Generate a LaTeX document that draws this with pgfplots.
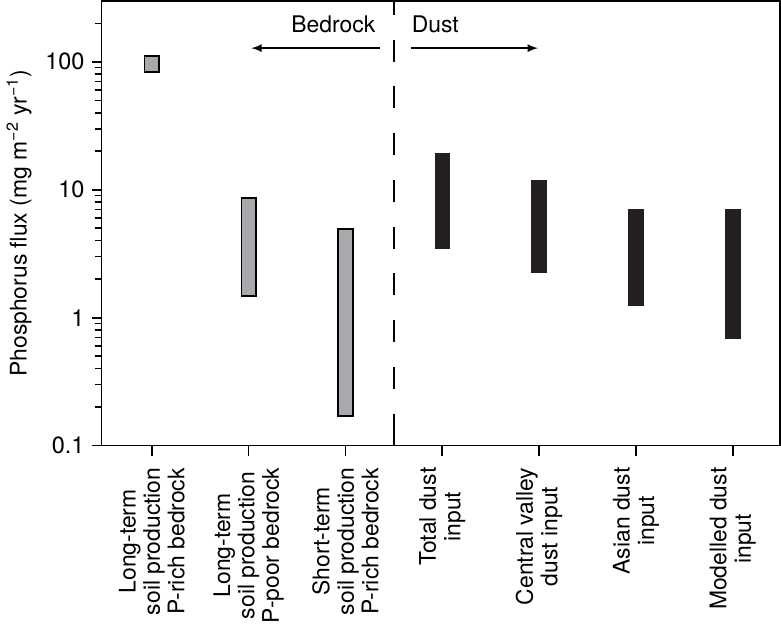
\documentclass[border=0pt]{standalone}
\usepackage{pgfplots}
\pgfplotsset{compat=1.18}
\usepackage{fontspec}
\setmainfont{TeX Gyre Heros}
\definecolor{bargray}{HTML}{A7A9AC}
\definecolor{barblack}{HTML}{231F20}
\begin{document}
\begin{tikzpicture}
\begin{axis}[
  scale only axis, width=341pt, height=223.5pt,
  ymode=log, ymin=0.1, ymax=300,
  xmin=0.48, xmax=7.49,
  xtick={1,2,3,4,5,6,7},
  xticklabels={{Long-term\\soil production\\P-rich bedrock},{Long-term\\soil production\\P-poor bedrock},{Short-term\\soil production\\P-rich bedrock},{Total dust\\input},{Central valley\\dust input},{Asian dust\\input},{Modelled dust\\input}},
  xticklabel style={rotate=90, anchor=east, align=center, font=\fontsize{11.5}{12.3}\selectfont},
  xticklabel shift=2.5pt,
  ytick={0.1,1,10,100}, yticklabels={0.1,1,10,100},
  minor ytick={0.2,0.3,0.4,0.5,0.6,0.7,0.8,0.9,2,3,4,5,6,7,8,9,20,30,40,50,60,70,80,90,200},
  yticklabel style={font=\fontsize{11.8}{12.3}\selectfont},
  /pgf/number format/assume math mode=true,
  tick align=outside, tick pos=left,
  major tick length=5pt, minor tick length=3.5pt,
  axis line style={line width=0.8pt},
  every tick/.style={black, line width=0.8pt},
  ylabel={Phosphorus flux (mg m\textsuperscript{−2} yr\textsuperscript{−1})},
  ylabel style={font=\fontsize{11.5}{12.3}\selectfont},
  clip=false,
]
\addplot[fill=bargray, draw=black, line width=0.8pt] coordinates {(0.925,83) (1.075,83) (1.075,111) (0.925,111)} -- cycle;
\addplot[fill=bargray, draw=black, line width=0.8pt] coordinates {(1.925,1.48) (2.075,1.48) (2.075,8.6) (1.925,8.6)} -- cycle;
\addplot[fill=bargray, draw=black, line width=0.8pt] coordinates {(2.925,0.171) (3.075,0.171) (3.075,4.92) (2.925,4.92)} -- cycle;
\addplot[fill=barblack, draw=none] coordinates {(3.92,3.47) (4.08,3.47) (4.08,19.3) (3.92,19.3)} -- cycle;
\addplot[fill=barblack, draw=none] coordinates {(4.92,2.24) (5.08,2.24) (5.08,11.9) (4.92,11.9)} -- cycle;
\addplot[fill=barblack, draw=none] coordinates {(5.92,1.24) (6.08,1.24) (6.08,7.08) (5.92,7.08)} -- cycle;
\addplot[fill=barblack, draw=none] coordinates {(6.92,0.68) (7.08,0.68) (7.08,7.08) (6.92,7.08)} -- cycle;
% divider
\draw[line width=0.8pt, dash pattern=on 11pt off 12.5pt, dash phase=-5pt] (axis cs:3.5,0.1) -- (axis cs:3.5,300);
\draw[line width=0.8pt] (axis cs:3.5,0.1) -- ([yshift=5pt]axis cs:3.5,0.1);
\draw[line width=0.8pt] (axis cs:3.5,300) -- ([yshift=-5pt]axis cs:3.5,300);
% annotations
\draw[line width=0.8pt, -latex] (axis cs:3.354,128) -- (axis cs:2.028,128);
\draw[line width=0.8pt, -latex] (axis cs:3.672,128) -- (axis cs:4.988,128);
\node[anchor=east, font=\fontsize{11.5}{12.3}\selectfont, inner sep=0pt] at (axis cs:3.312,198) {Bedrock};
\node[anchor=west, font=\fontsize{11.5}{12.3}\selectfont, inner sep=0pt] at (axis cs:3.682,198) {Dust};
% bottom line extension
\draw[line width=0.8pt] (rel axis cs:0,0) -- ([xshift=-5pt]rel axis cs:0,0);
\end{axis}
\end{tikzpicture}
\end{document}
